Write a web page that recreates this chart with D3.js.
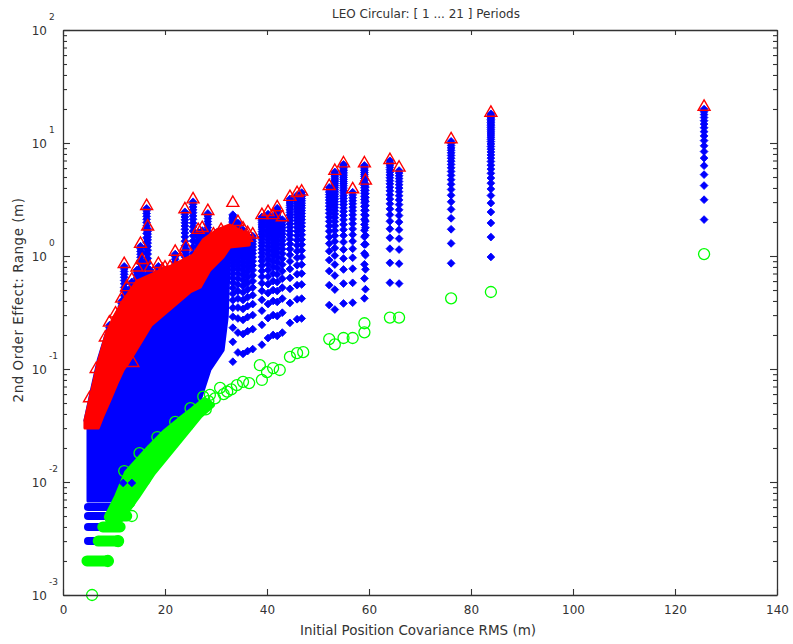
<!DOCTYPE html>
<html>
<head>
<meta charset="utf-8">
<script src="https://cdn.jsdelivr.net/npm/d3@7"></script>
<style>
  body { margin: 0; background: #fff; }
  svg { display: block; }
  text { font-family: "DejaVu Sans", Verdana, sans-serif; fill: #333; }
  .axis .domain { stroke: #333; stroke-width: 1.3; }
  .axis line { stroke: #333; stroke-width: 1.1; }
</style>
</head>
<body>
<svg width="793" height="644"></svg>
<script>
// ---- data ----
const xTicks = [0, 20, 40, 60, 80, 100, 120, 140];
const decades = [1e-3, 1e-2, 1e-1, 1e0, 1e1, 1e2];
const periods = d3.range(1, 41); // period index 1..N

// solid blue cloud outline (x, value)
const blueCloudX = [4.9, 4.9, 11.0, 12.5, 17.1, 21.0, 26.9, 28.8, 31.4, 32.2, 32.7, 30.2, 25.5, 21.6, 18.4, 14.5, 11.6, 8.4, 6.9, 5.7, 4.3];
const blueCloudY = [0.0354, 0.0068, 0.0068, 0.0111, 0.0192, 0.0307, 0.0532, 0.098, 0.147, 0.289, 1.25, 1.70, 0.98, 0.80, 0.72, 0.61, 0.39, 0.20, 0.12, 0.069, 0.035];

// solid red band outline (x, value)
const redBandX = [4.3, 4.3, 5.7, 6.9, 8.4, 9.8, 11.6, 14.5, 18.4, 21.6, 25.5, 27.5, 30.2, 32.7, 36.5, 36.5, 32.7, 31.4, 28.8, 26.9, 24.9, 17.3, 15.5, 13.5, 11.8, 10.6, 9.2, 7.8, 6.9];
const redBandY = [0.030, 0.035, 0.066, 0.115, 0.20, 0.28, 0.39, 0.60, 0.72, 0.83, 1.02, 1.39, 1.70, 1.88, 1.53, 1.25, 1.20, 0.98, 0.75, 0.53, 0.48, 0.245, 0.18, 0.128, 0.098, 0.075, 0.053, 0.038, 0.030];

// solid green band outline (x, value)
const greenBandX = [8.6, 10.6, 12.5, 17.1, 20.0, 22.9, 25.9, 27.8, 29.2, 26.9, 22.9, 17.6, 14.5, 11.2, 9.2];
const greenBandY = [0.0049, 0.0074, 0.012, 0.0204, 0.0277, 0.0354, 0.0451, 0.053, 0.048, 0.039, 0.0235, 0.012, 0.0074, 0.0046, 0.0042];

// quantised rows at the bottom
const blueRowVal = [0.006, 0.005, 0.004, 0.003];
const blueRowFrom = [4.9, 4.9, 4.9, 4.9];
const blueRowTo = [9.8, 9.2, 7.8, 6.7];
const greenRowVal = [0.005, 0.004, 0.003, 0.002];
const greenRowFrom = [9.2, 7.8, 6.9, 4.7];
const greenRowTo = [12.5, 11.2, 10.8, 8.8];

// single green circles (period 1)
const ringX = [5.7, 13.5, 26.3, 27.5, 28.8, 30.8, 32.2, 34.1, 35.3, 39.0, 38.6, 40.0, 41.2, 42.5, 44.5, 45.9, 47.1, 52.2, 53.3, 55.0, 56.8, 59.1, 59.1, 64.1, 65.9, 76.1, 83.9, 125.7,
  12.0, 15.0, 18.5, 22.0, 25.0, 28.5, 28.0, 24.5, 20.0, 16.0, 13.0, 10.8, 8.8, 29.8, 31.5, 33.0, 36.5];
const ringY = [0.001, 0.005, 0.043, 0.057, 0.059, 0.068, 0.063, 0.072, 0.077, 0.080, 0.108, 0.094, 0.102, 0.098, 0.128, 0.138, 0.141, 0.184, 0.165, 0.188, 0.188, 0.254, 0.211, 0.285, 0.285, 0.422, 0.48, 1.04,
  0.0125, 0.018, 0.025, 0.034, 0.045, 0.052, 0.044, 0.032, 0.019, 0.0105, 0.0066, 0.003, 0.002, 0.055, 0.06, 0.066, 0.075];

// columns of blue diamonds: x, value per period, top (red triangle)
const spikeX = [46.8, 52.2, 53.3, 55.0, 56.8, 59.1, 59.3, 64.1, 65.9, 76.1, 83.9, 125.7,
  33.3, 34.3, 35.3, 36.2, 37.2, 39.0, 40.2, 41.2, 42.0, 43.0, 44.5, 45.9,
  9.1, 11.5, 12.0, 12.5, 13.5, 14.5, 15.2, 15.5, 16.4, 16.6, 17.1, 18.7, 20.0, 22.0, 23.9, 24.1, 25.5, 26.5, 27.3, 28.4];
const spikeStep = [0.14, 0.184, 0.168, 0.19, 0.193, 0.211, 0.254, 0.29, 0.285, 0.431, 0.49, 1.05,
  0.058, 0.07, 0.068, 0.072, 0.075, 0.082, 0.094, 0.1, 0.098, 0.105, 0.128, 0.138,
  0.0122, 0.02, 0.0405, 0.025, 0.0295, 0.0376, 0.061, 0.0438, 0.132, 0.0867, 0.0376, 0.0405, 0.0376, 0.052, 0.123, 0.0576, 0.151, 0.081, 0.084, 0.119];
const spikeTop = [3.71, 4.16, 5.66, 6.6, 3.89, 6.6, 4.64, 7.07, 6.05, 10.8, 18.5, 20.9,
  2.95, 2.0, 1.75, 1.6, 1.55, 2.3, 2.45, 2.3, 2.7, 2.2, 3.33, 3.6,
  0.257, 0.42, 0.85, 0.53, 0.62, 0.79, 1.28, 0.92, 2.77, 1.82, 0.79, 0.85, 0.79, 1.09, 2.59, 1.21, 3.17, 1.70, 1.77, 2.5];

// other single markers
const blueDotX = [11.8, 13.5];
const blueDotY = [0.0098, 0.0098];
const triX = [13.7, 5.2, 6.5, 8.3, 10.3, 19.5, 21.0, 23.0, 29.5, 31.0, 33.8, 35.0, 36.0];
const triY = [0.113, 0.055, 0.1, 0.19, 0.31, 0.75, 0.8, 0.95, 1.55, 1.7, 1.6, 1.5, 1.45];

// ---- chart ----
const svg = d3.select("svg"),
  width = +svg.attr("width"),
  height = +svg.attr("height");

const x = d3.scaleLinear().domain([0, 140]).range([63, 777]);
const y = d3.scaleLog().domain([1e-3, 1e2]).range([595, 30]);

const BLUE = "#0000ff", RED = "#ff0000", GREEN = "#00ff00";
const line = d3.line().x(d => x(d[0])).y(d => y(d[1]));
const zip = (a, b) => a.map((v, i) => [v, b[i]]);

// blue cloud
svg.append("path")
  .attr("d", line(zip(blueCloudX, blueCloudY)) + "Z")
  .attr("fill", BLUE).attr("stroke", BLUE).attr("stroke-width", 3).attr("stroke-linejoin", "round");

// blue rows
svg.selectAll(".brow").data(blueRowVal).join("line")
  .attr("x1", (d, i) => x(blueRowFrom[i])).attr("x2", (d, i) => x(blueRowTo[i]))
  .attr("y1", d => y(d)).attr("y2", d => y(d))
  .attr("stroke", BLUE).attr("stroke-width", 8).attr("stroke-linecap", "round");

// green band + rows
svg.append("path")
  .attr("d", line(zip(greenBandX, greenBandY)) + "Z")
  .attr("fill", GREEN).attr("stroke", GREEN).attr("stroke-width", 6).attr("stroke-linejoin", "round");

svg.selectAll(".grow").data(greenRowVal).join("line")
  .attr("x1", (d, i) => x(greenRowFrom[i])).attr("x2", (d, i) => x(greenRowTo[i]))
  .attr("y1", d => y(d)).attr("y2", d => y(d))
  .attr("stroke", GREEN).attr("stroke-width", 11).attr("stroke-linecap", "round");

// blue diamonds of the columns
const diamond = d3.symbol(d3.symbolSquare, 30)();
const spikePts = [];
spikeX.forEach((sx, i) => {
  periods.forEach(n => {
    const v = n * spikeStep[i];
    if (n >= 2 && v <= spikeTop[i] * 0.985) spikePts.push([sx, v]);
  });
});
blueDotX.forEach((bx, i) => spikePts.push([bx, blueDotY[i]]));

svg.append("g").selectAll("path").data(spikePts).join("path")
  .attr("d", diamond)
  .attr("transform", d => `translate(${x(d[0])},${y(d[1])}) rotate(45)`)
  .attr("fill", BLUE).attr("stroke", BLUE).attr("stroke-width", 0.8);

// red band
svg.append("path")
  .attr("d", line(zip(redBandX, redBandY)) + "Z")
  .attr("fill", RED).attr("stroke", RED).attr("stroke-width", 3).attr("stroke-linejoin", "round");

// green circles
svg.append("g").selectAll("circle").data(zip(ringX, ringY)).join("circle")
  .attr("cx", d => x(d[0])).attr("cy", d => y(d[1])).attr("r", 5.5)
  .attr("fill", "none").attr("stroke", GREEN).attr("stroke-width", 1.3);

// red triangles (tops of the columns + singles)
const tri = d3.symbol(d3.symbolTriangle, 62)();
const triPts = zip(spikeX, spikeTop).concat(zip(triX, triY));
svg.append("g").selectAll("path").data(triPts).join("path")
  .attr("d", tri)
  .attr("transform", d => `translate(${x(d[0])},${y(d[1])})`)
  .attr("fill", "none").attr("stroke", RED).attr("stroke-width", 1.4);

// ---- axes / frame ----
const minors = y.ticks().filter(v => !decades.some(d => Math.abs(d - v) < d * 1e-6));

svg.append("g").attr("class", "axis")
  .attr("transform", `translate(0,${y(1e-3)})`)
  .call(d3.axisBottom(x).tickValues(xTicks).tickSize(-6).tickSizeOuter(0).tickPadding(10))
  .selectAll("text").style("font-size", "12px").style("fill", "#333");

svg.append("g").attr("class", "axis")
  .attr("transform", `translate(0,${y(1e2)})`)
  .call(d3.axisTop(x).tickValues(xTicks).tickSize(-5).tickSizeOuter(0).tickFormat(""));

[[d3.axisLeft, x(0)], [d3.axisRight, x(140)]].forEach(([ax, px]) => {
  svg.append("g").attr("class", "axis")
    .attr("transform", `translate(${px},0)`)
    .call(ax(y).tickValues(decades).tickSize(-7).tickSizeOuter(0).tickFormat(""));
  svg.append("g").attr("class", "axis")
    .attr("transform", `translate(${px},0)`)
    .call(ax(y).tickValues(minors).tickSize(-4).tickSizeOuter(0).tickFormat(""))
    .select(".domain").remove();
});

// y labels as 10^n
decades.forEach(d => {
  svg.append("text")
    .attr("x", 47).attr("y", y(d) + 5)
    .attr("text-anchor", "end")
    .style("font-size", "12px")
    .text("10");
  svg.append("text")
    .attr("x", 49).attr("y", y(d) - 10)
    .style("font-size", "9px")
    .text(Math.round(Math.log10(d)));
});

// titles
svg.append("text")
  .attr("x", 426).attr("y", 18)
  .attr("text-anchor", "middle")
  .style("font-size", "12px")
  .text("LEO Circular: [ 1 ... 21 ] Periods");

svg.append("text")
  .attr("x", 418).attr("y", 635)
  .attr("text-anchor", "middle")
  .style("font-size", "13.5px")
  .text("Initial Position Covariance RMS (m)");

svg.append("text")
  .attr("transform", "translate(23,300) rotate(-90)")
  .attr("text-anchor", "middle")
  .style("font-size", "13.5px")
  .style("letter-spacing", "0.5px")
  .text("2nd Order Effect: Range (m)");
</script>
</body>
</html>
